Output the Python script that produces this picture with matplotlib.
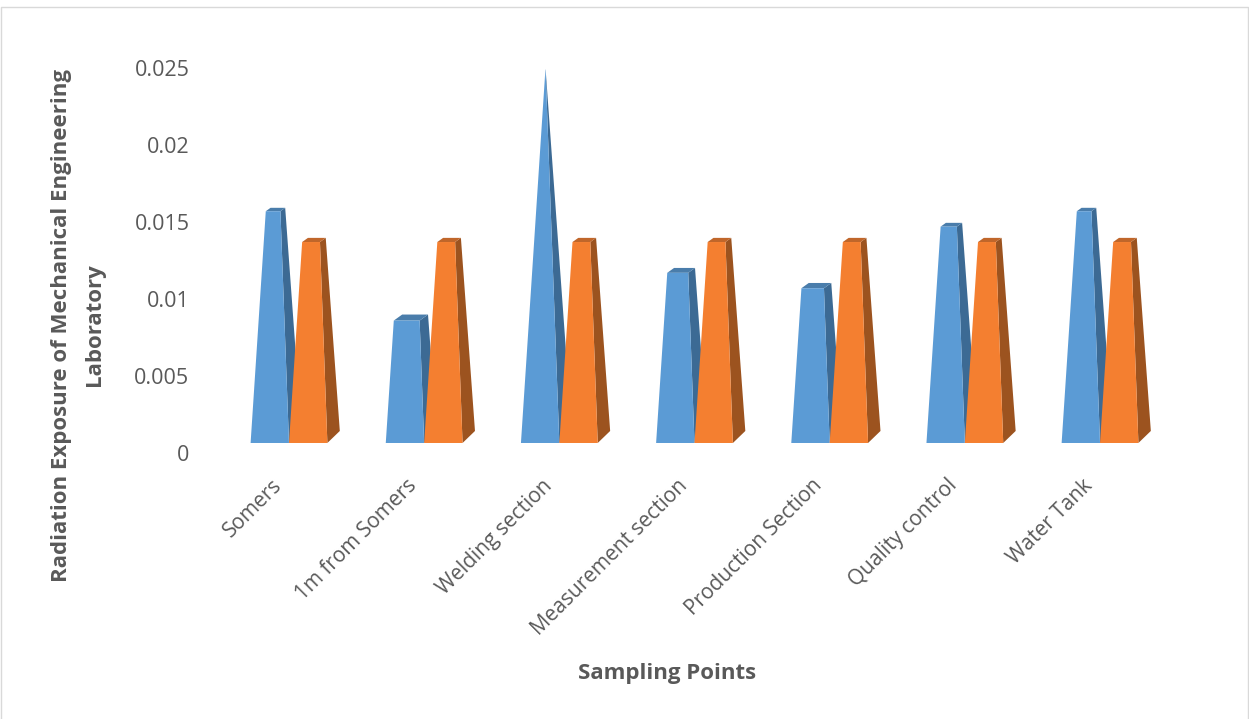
import matplotlib
matplotlib.use('Agg')
import matplotlib.pyplot as plt
from matplotlib.lines import Line2D
from matplotlib.patches import Polygon
from matplotlib.transforms import ScaledTranslation

plt.rcParams['font.family'] = ['Open Sans', 'DejaVu Sans']

categories = ['Somers', '1m from Somers', 'Welding section', 'Measurement section',
              'Production Section', 'Quality control', 'Water Tank']
series_a = [0.0157, 0.0086, 0.0249, 0.0117, 0.0107, 0.0147, 0.0157]
series_b = [0.0137, 0.0137, 0.0137, 0.0137, 0.0137, 0.0137, 0.0137]
yticks = [0, 0.005, 0.01, 0.015, 0.02, 0.025]
yticklabels = ['0', '0.005', '0.01', '0.015', '0.02', '0.025']

W, H = 1249, 719
BAR = 0.284      # bar width, category units
FLOOR = 0.00065  # the 3d floor sits a little above the zero label
DX = 0.092       # depth of the base
DY = 0.00078
DY_TOP = 0.00058 # top faces look flatter than the base
APEX = 0.64      # where the pyramid tip is, share of the bar width
TOP = 0.025

fig = plt.figure(figsize=(W / 100, H / 100), dpi=100)
# frame has no bottom edge
fig.add_artist(Line2D([0.5 / W, 0.5 / W, (W - 1) / W, (W - 1) / W], [0, 1 - 6.5 / H, 1 - 6.5 / H, 0],
                      transform=fig.transFigure, color='#d9d9d9', linewidth=1))
ax = fig.add_axes([221.4 / W, (H - 453) / H, 946.2 / W, 385 / H])
ax.set_xlim(-0.5, 6.5)
ax.set_ylim(0, 0.025)
for s in ax.spines.values():
    s.set_visible(False)


def pyramid(left, v, front, side, top):
    f = (v - FLOOR) / (TOP - FLOOR)  # how far up the pyramid it is cut
    right = left + BAR
    apex = left + BAR * APEX
    tl = left + (apex - left) * f
    tr = right + (apex - right) * f
    dx = DX * (1 - f)
    dy = DY_TOP * (1 - f)
    ax.add_patch(Polygon([(right, FLOOR), (right + DX, FLOOR + DY), (tr + dx, v + dy), (tr, v)],
                         facecolor=side, edgecolor='none'))
    ax.add_patch(Polygon([(tl, v), (tr, v), (tr + dx, v + dy), (tl + dx, v + dy)],
                         facecolor=top, edgecolor='none', clip_on=False))
    ax.add_patch(Polygon([(left, FLOOR), (right, FLOOR), (tr, v), (tl, v)],
                         facecolor=front, edgecolor='none'))


for i in range(len(categories)):
    pyramid(i - BAR, series_a[i], '#5b9bd5', '#3c6a94', '#4a7dab')
    pyramid(i, series_b[i], '#f47f30', '#9c531f', '#c0662a')

ax.set_yticks(yticks)
ax.set_yticklabels(yticklabels, fontsize=15.5, color='#595959')
ax.set_xticks(range(len(categories)))
ax.set_xticklabels(categories, fontsize=15, color='#595959', rotation=45,
                   ha='right', va='top', rotation_mode='anchor')
ax.tick_params(length=0, axis='y', pad=23)
ax.tick_params(length=0, axis='x', pad=16)
# rotated labels sit further left than the tick
shift = ScaledTranslation(-18 / 100, 0, fig.dpi_scale_trans)
for lab in ax.get_xticklabels():
    lab.set_transform(lab.get_transform() + shift)

fig.text(78 / W, 1 - 325 / H, 'Radiation Exposure of Mechanical Engineering\nLaboratory',
         rotation=90, ha='center', va='center', fontsize=16, fontweight='bold',
         color='#595959', linespacing=1.7)
fig.text(667 / W, 1 - 674 / H, 'Sampling Points', ha='center', va='center', fontsize=16,
         fontweight='bold', color='#595959')

fig.savefig('out.png', dpi=100)
